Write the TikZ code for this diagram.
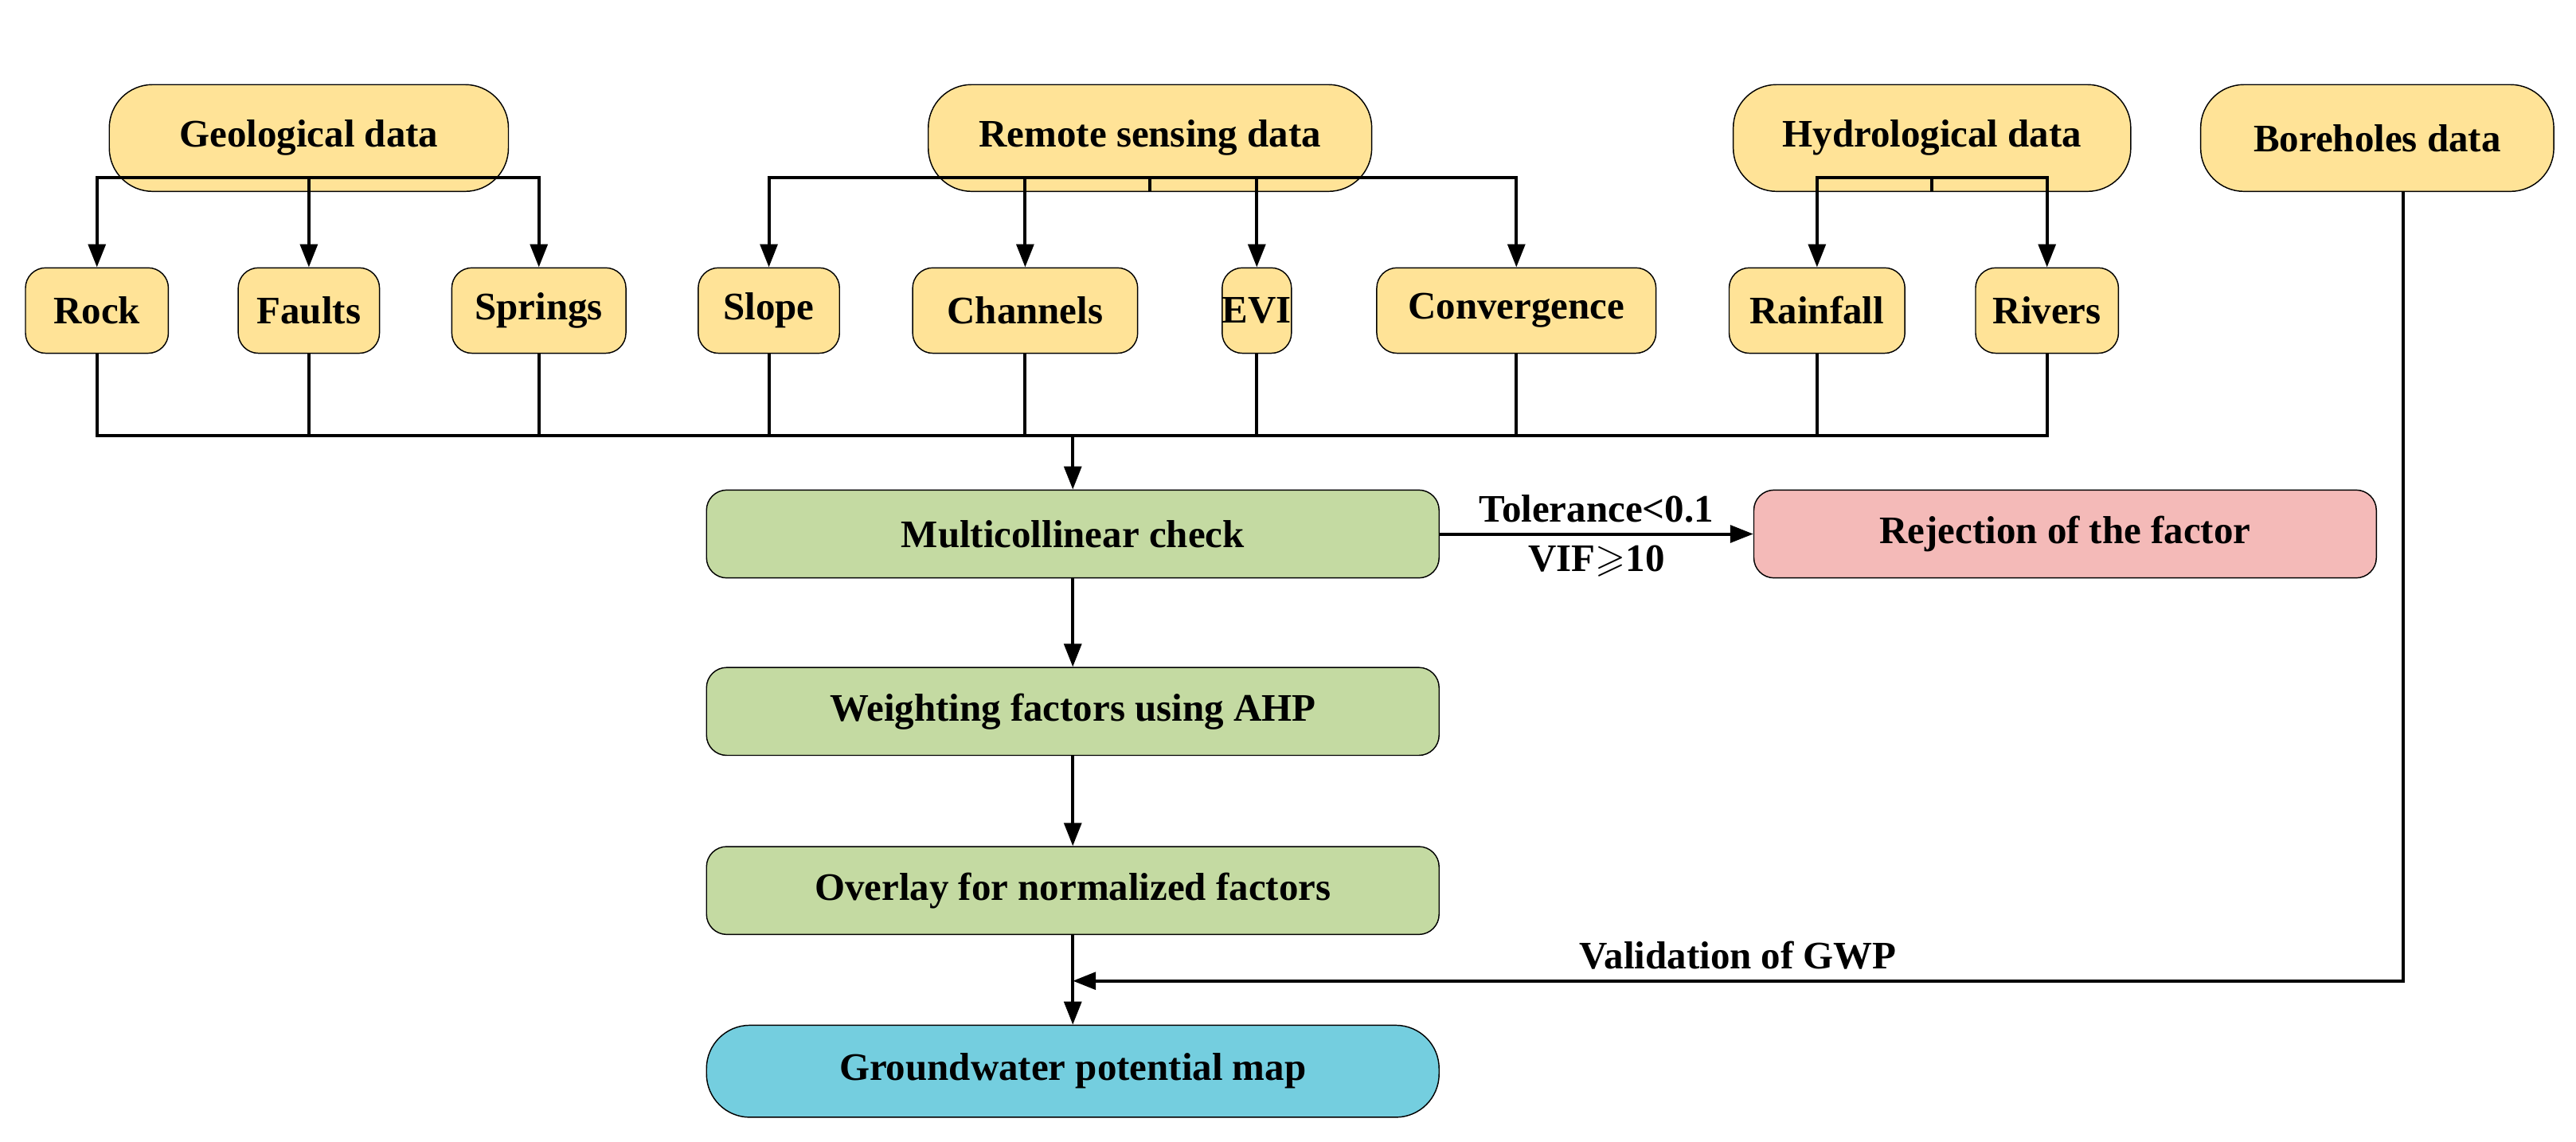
\documentclass[tikz,border=0pt]{standalone}
\usepackage{fontspec}
\setmainfont{Liberation Serif}
\usepackage{amssymb}
\usetikzlibrary{arrows.meta}
\definecolor{ylw}{HTML}{FFE397}
\definecolor{grn}{HTML}{C4DAA2}
\definecolor{pnk}{HTML}{F4BAB8}
\definecolor{cyn}{HTML}{74CEDF}
\tikzset{
  txt/.style = {font=\fontsize{13.5}{15}\selectfont\bfseries},
  src/.style = {txt, draw, fill=ylw, rounded corners=15, inner sep=0, minimum height=1.3cm},
  fac/.style = {txt, draw, fill=ylw, rounded corners=7, inner sep=0, minimum height=1.04cm},
  proc/.style = {txt, draw, fill=grn, rounded corners=7, inner sep=0, minimum width=8.92cm, minimum height=1.07cm},
  link/.style = {line width=1.1pt},
  arr/.style = {link, -{Triangle[length=8pt, width=6pt]}}
}

\begin{document}
\begin{tikzpicture}[x=0.02cm, y=-0.02cm]
    \useasboundingbox (0, 0) rectangle (1568, 695);

    % data sources
    \node [src, minimum width=4.86cm] (geo) at (188, 84) {Geological data};
    \node [src, minimum width=5.4cm] (rs) at (700, 84) {Remote sensing data};
    \node [src, minimum width=4.84cm] (hyd) at (1176, 84) {Hydrological data};
    \node [src, minimum width=4.3cm] (bh) at (1447, 84) {Boreholes data};

    % factors
    \node [fac, minimum width=1.74cm] (rock) at (59, 189) {Rock};
    \node [fac, minimum width=1.72cm] (faults) at (188, 189) {Faults};
    \node [fac, minimum width=2.12cm] (springs) at (328, 189) {Springs};
    \node [fac, minimum width=1.72cm] (slope) at (468, 189) {Slope};
    \node [fac, minimum width=2.74cm] (chan) at (624, 189) {Channels};
    \node [fac, minimum width=0.8cm] (evi) at (765, 189) {EVI};
    \node [fac, minimum width=3.4cm] (conv) at (923, 189) {Convergence};
    \node [fac, minimum width=2.14cm] (rain) at (1106, 189) {Rainfall};
    \node [fac, minimum width=1.74cm] (riv) at (1246, 189) {Rivers};

    % steps
    \node [proc] (multi) at (653, 325) {Multicollinear check};
    \node [txt, draw, fill=pnk, rounded corners=7, inner sep=0, minimum width=7.58cm, minimum height=1.07cm] (rej) at (1257, 325) {Rejection of the factor};
    \node [proc] (wt) at (653, 433) {Weighting factors using AHP};
    \node [proc] (ovl) at (653, 542) {Overlay for normalized factors};
    \node [txt, draw, fill=cyn, rounded corners=15, inner sep=0, minimum width=8.92cm, minimum height=1.12cm] (gwp) at (653, 652) {Groundwater potential map};

    % forks
    \coordinate (gf) at (188, 108);
    \coordinate (rf) at (700, 108);
    \coordinate (hf) at (1176, 108);
    \draw [link] (geo) -- (gf);
    \draw [link] (rs) -- (rf);
    \draw [link] (hyd) -- (hf);
    \foreach \f/\t in {gf/rock, gf/faults, gf/springs, rf/slope, rf/chan, rf/evi, rf/conv, hf/rain, hf/riv}
        \draw [arr] (\f) -| (\t);

    % bus
    \coordinate (bus) at (653, 265);
    \foreach \t in {rock, faults, springs, slope, chan, evi, conv, rain, riv}
        \draw [link] (\t) |- (bus);
    \draw [arr] (bus) -- (multi);

    \draw [arr] (multi) -- node [above, txt] {Tolerance<0.1} node [below, txt] {VIF$\geqslant$10} (rej);
    \draw [arr] (multi) -- (wt);
    \draw [arr] (wt) -- (ovl);
    \draw [arr] (ovl) -- (gwp);

    \coordinate (bhx) at (1463, 117);
    \coordinate (val) at (653, 597);
    \draw [arr] (bhx) |- node [pos=0.75, above, txt] {Validation of GWP} (val);
\end{tikzpicture}
\end{document}
